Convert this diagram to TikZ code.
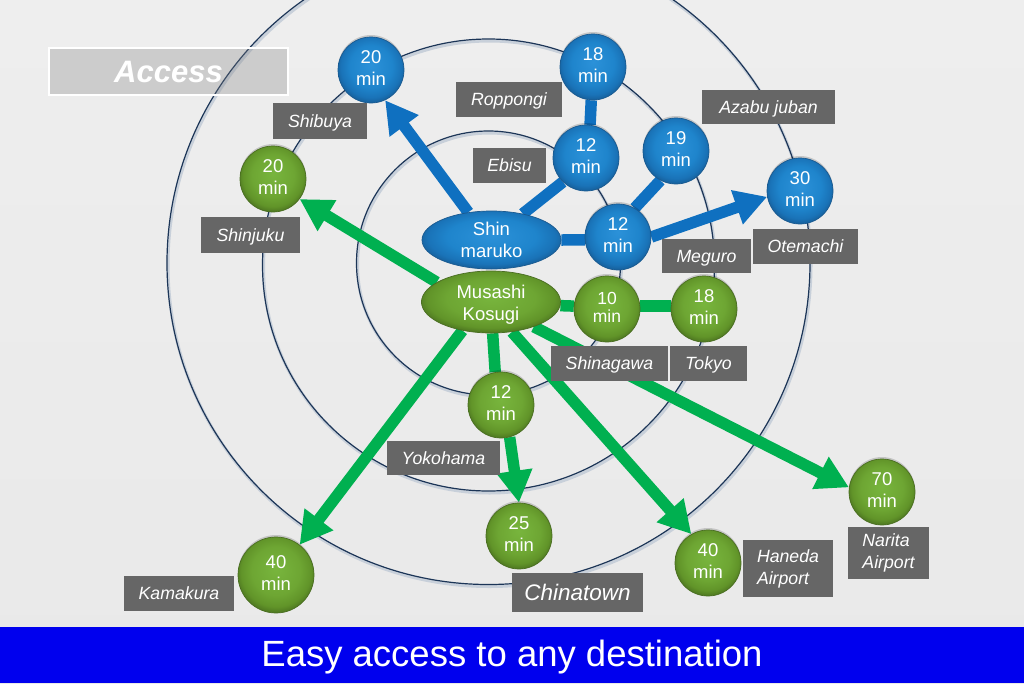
\documentclass[tikz,border=0pt]{standalone}
\usepackage{fontspec}
\setmainfont{Liberation Sans}
\usetikzlibrary{arrows.meta,shapes.geometric,shadows}
\definecolor{bgtop}{HTML}{EEEEEE}
\definecolor{bgbot}{HTML}{E9E9E9}
\definecolor{ringc}{HTML}{1C3557}
\definecolor{ringsh}{HTML}{C8D0DA}
\definecolor{bluec}{HTML}{0F70C0}
\definecolor{greenc}{HTML}{00B050}
\definecolor{lblc}{HTML}{666666}
\definecolor{bandc}{HTML}{0000EE}
\definecolor{blueedge}{HTML}{1A5A90}
\definecolor{greenedge}{HTML}{4A6E22}
\pgfdeclareradialshading{blueball}{\pgfpoint{0bp}{4bp}}{
 rgb(0bp)=(0.17,0.57,0.85);
 rgb(16bp)=(0.12,0.52,0.80);
 rgb(23bp)=(0.10,0.45,0.72);
 rgb(29bp)=(0.08,0.33,0.54);
 rgb(50bp)=(0.08,0.33,0.54)}
\pgfdeclareradialshading{greenball}{\pgfpoint{0bp}{4bp}}{
 rgb(0bp)=(0.47,0.71,0.24);
 rgb(16bp)=(0.43,0.65,0.20);
 rgb(23bp)=(0.38,0.58,0.16);
 rgb(29bp)=(0.26,0.40,0.11);
 rgb(50bp)=(0.26,0.40,0.11)}
\pgfdeclarelayer{ringlayer}
\pgfdeclarelayer{linklayer}
\pgfsetlayers{ringlayer,linklayer,main}
\tikzset{
 ring/.style={draw=ringc,line width=1.2pt},
 ringshadow/.style={draw=ringsh,line width=3pt},
 ballbase/.style={circle,inner sep=0pt,text=white,align=center,text depth=4pt,font=\fontsize{18.5}{22}\selectfont,general shadow={fill=black,opacity=0.16,shadow xshift=0pt,shadow yshift=2pt}},
 bluenode/.style={ballbase,minimum size=66pt,shading=blueball,draw=blueedge,line width=0.7pt},
 greennode/.style={ballbase,minimum size=66pt,shading=greenball,draw=greenedge,line width=0.7pt},
 blueoval/.style={ellipse,inner sep=0pt,minimum width=139pt,minimum height=58pt,text=white,align=center,font=\fontsize{18.5}{22}\selectfont,shading=blueball,draw=blueedge,line width=0.7pt},
 greenoval/.style={blueoval,shading=greenball,draw=greenedge},
 lbl/.style={fill=lblc,text=white,inner sep=0pt,align=left,font=\fontsize{17.7}{22}\selectfont\itshape},
 lblone/.style={lbl,text height=15pt,text depth=3pt},
 bluelink/.style={draw=bluec,line width=11.5pt},
 greenlink/.style={draw=greenc,line width=11.5pt},
 bluearrow/.style={bluelink,-{Triangle[length=32pt,width=34pt]}},
 greenarrow/.style={greenlink,-{Triangle[length=32pt,width=34pt]}},
}
\newcommand{\labelbox}[6]{\node[lblone,minimum width=#3-#1,minimum height=#4-#2] (#5) at ({(#1+#3)/2},{(#2+#4)/2}) {#6};}
\begin{document}
\begin{tikzpicture}[x=1pt,y=-1pt]
\useasboundingbox (0,0) rectangle (1024,683);
\begin{pgfonlayer}{ringlayer}
\fill[top color=bgtop,bottom color=bgbot] (0,0) rectangle (1024,683);
\begin{scope}
\clip (0,0) rectangle (1024,627);
\draw[ringshadow] (489.5,265) circle[radius=321.5];
\draw[ringshadow] (489.5,267) circle[radius=226];
\draw[ringshadow] (489.5,265) circle[radius=132];
\draw[ring] (488.5,263) circle[radius=321.5];
\draw[ring] (488.5,265) circle[radius=226];
\draw[ring] (488.5,263) circle[radius=132];
\end{scope}
\end{pgfonlayer}
% nodes
\node[bluenode] (shibuya) at (371,70) {20\\min};
\node[bluenode] (roppongi) at (593,67) {18\\min};
\node[bluenode] (ebisu) at (586,158) {12\\min};
\node[bluenode] (azabu) at (676,151) {19\\min};
\node[bluenode] (otemachi) at (800,191) {30\\min};
\node[bluenode] (meguro) at (618,237) {12\\min};
\node[blueoval] (shin) at (491.5,240) {Shin\\maruko};
\node[greenoval,text height=40pt] (musashi) at (491,302) {Musashi\\Kosugi};
\node[greennode,font=\fontsize{17.5}{18}\selectfont] (shinagawa) at (607,309) {10\\min};
\node[greennode] (tokyo) at (704,309) {18\\min};
\node[greennode] (shinjuku) at (273,179) {20\\min};
\node[greennode] (yokohama) at (501,405) {12\\min};
\node[greennode] (china) at (519,536) {25\\min};
\node[greennode,minimum size=76pt] (kamakura) at (276,575) {40\\min};
\node[greennode] (haneda) at (708,563) {40\\min};
\node[greennode] (narita) at (882,492) {70\\min};
% connectors
\begin{pgfonlayer}{linklayer}
\draw[bluearrow] (shin.130) -- (shibuya.-65);
\draw[bluelink] (shin.40) -- (ebisu.-134);
\draw[bluelink] (shin.east) -- (meguro.-175);
\draw[bluelink] (ebisu.83) -- (roppongi.-93);
\draw[bluelink] (meguro.60) -- (azabu.-118);
\draw[bluearrow] (meguro.east) -- (otemachi.190);
\draw[greenarrow] (musashi.160) -- (shinjuku.-37);
\draw[greenlink] (musashi.-3) -- (shinagawa.175);
\draw[greenlink] (shinagawa.5) -- (tokyo.175);
\draw[greenlink] (musashi.-87) -- (yokohama.100);
\draw[greenarrow] (yokohama.-75) -- (china.north);
\draw[greenarrow] (musashi.-135) -- (kamakura.52);
\draw[greenarrow] (musashi.-55) -- (haneda.120);
\draw[greenarrow] (musashi.-30) -- (narita.172);
\end{pgfonlayer}
% labels
\labelbox{273}{103}{367}{139}{lshibuya}{Shibuya}
\labelbox{456}{82}{562}{117}{lroppongi}{Roppongi}
\labelbox{702}{90}{835}{124}{lazabu}{Azabu juban}
\labelbox{473}{148}{546}{183}{lebisu}{Ebisu}
\labelbox{201}{217}{300}{253}{lshinjuku}{Shinjuku}
\labelbox{662}{239}{751}{273}{lmeguro}{Meguro}
\labelbox{753}{229}{858}{264}{lotemachi}{Otemachi}
\labelbox{551}{346}{668}{381}{lshinagawa}{Shinagawa}
\labelbox{670}{346}{747}{381}{ltokyo}{Tokyo}
\labelbox{387}{441}{500}{475}{lyokohama}{Yokohama}
\labelbox{124}{576}{234}{611}{lkamakura}{Kamakura}
\node[lbl,minimum width=131pt,minimum height=39pt,font=\fontsize{22.5}{26}\selectfont\itshape] (lchina) at (577.5,592.5) {Chinatown};
\node[lbl,minimum width=90pt,minimum height=57pt] (lhaneda) at (788,568.5) {Haneda\\Airport};
\node[lbl,minimum width=81pt,minimum height=52pt] (lnarita) at (888.5,553) {Narita\\Airport};
% title box
\node[fill=black!50,fill opacity=0.3,text opacity=1,draw=white,line width=1.6pt,minimum width=239pt,minimum height=47pt,inner sep=0pt,text=white,font=\fontsize{31}{34}\selectfont\bfseries\itshape] (access) at (168.5,71.5) {Access};
% band
\fill[bandc] (0,627) rectangle (1024,683);
\node[text=white,font=\fontsize{36.5}{40}\selectfont,inner sep=0pt] (band) at (512,657) {Easy access to any destination};
\end{tikzpicture}
\end{document}
